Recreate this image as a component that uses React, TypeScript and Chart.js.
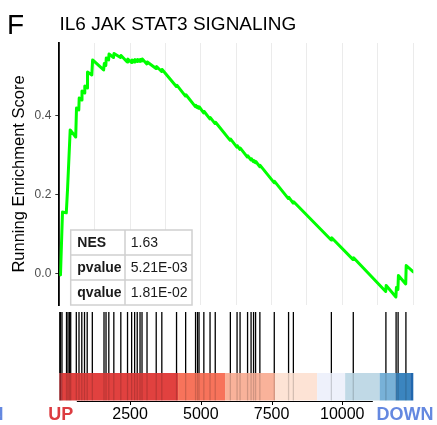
import React, { useEffect, useRef } from "react";
import { Chart, registerables } from "chart.js";

Chart.register(...registerables);

// ---------- data ----------
const panelTag = "F";
const geneSetTitle = "IL6 JAK STAT3 SIGNALING";
const yAxisTitle = "Running Enrichment Score";
const rankMax = 12510;

const curveRanks = [
  0, 42, 113, 247, 290, 325, 385, 580, 608, 689, 703, 788, 802, 884, 901, 979, 997, 1149, 1177,
  1566, 1591, 1644, 1661, 1743, 1757, 1916, 1934, 2163, 2181, 2400, 2421, 2549, 2566, 2655, 2672,
  2747, 2764, 2846, 2863, 2916, 2934, 3093, 3111, 3418, 3436, 3616, 3634,
  4136, 4154, 4458, 4475, 4808, 4825, 4878, 4896, 4931, 4949, 5101, 5119, 5320, 5338, 5504, 5522,
  6038, 6056, 6275, 6292, 6381, 6398, 6646, 6663, 6770, 6787, 6858, 6876, 6929, 6946, 7081, 7098,
  7590, 7607, 8095, 8113, 8265, 8283, 9608, 9626, 10382, 10400, 11535, 11552, 11895, 11913, 11966,
  11984, 12242, 12259, 12510,
];
const curveScores = [
  0.0, -0.004, 0.155, 0.153, 0.211, 0.267, 0.363, 0.345, 0.4185, 0.4134, 0.4438, 0.4387, 0.4615,
  0.4565, 0.4742, 0.4691, 0.5096, 0.502, 0.54,
  0.5147, 0.5311, 0.5261, 0.5451, 0.54, 0.5552, 0.5463, 0.5565, 0.5463, 0.5514, 0.5349, 0.5425,
  0.5337, 0.54, 0.5349, 0.5413, 0.5362, 0.5413, 0.5362, 0.5413, 0.5375, 0.5425, 0.5299, 0.5349,
  0.5185, 0.5235, 0.5109, 0.5159,
  0.4729, 0.4762, 0.4486, 0.4519, 0.4218, 0.4251, 0.419, 0.4223, 0.4177, 0.421, 0.4063, 0.4096,
  0.3909, 0.3942, 0.379, 0.3823, 0.3365, 0.3397, 0.3195, 0.3228, 0.3137, 0.317, 0.2942, 0.2975,
  0.2868, 0.2901, 0.2825, 0.2858, 0.2797, 0.283, 0.2699, 0.2732, 0.2294, 0.2327, 0.1891, 0.1924,
  0.1777, 0.181, 0.0843, 0.0899, 0.0347, 0.0392, -0.0461, -0.0309, -0.06, -0.0359, -0.041,
  -0.0056, -0.0271, 0.0197, 0.0033,
];

const hitRanks = [
  18, 42, 95, 255, 308, 361, 403, 601, 696, 795, 891, 986, 1167, 1580, 1651, 1750, 1927, 2174,
  2411, 2556, 2662, 2754, 2853, 2923, 3100, 3425, 3623, 4143, 4465, 4815, 4885, 4938, 5108, 5327,
  5511, 6045, 6282, 6388, 6653, 6777, 6865, 6936, 7088, 7597, 8102, 8272, 9615, 10389, 11542,
  11902, 11973, 12249,
];

const colorBreaks = [0, 90, 4197, 5858, 7626, 9111, 10101, 11320, 11880, 12400, 12510];
const colorBarColors = [
  "#B7282E", "#E1413F", "#F7735B", "#F9B29A", "#FDE3D5", "#EEF1FB", "#C0D9E6", "#78B1D7",
  "#3B85BF", "#2067AE",
];

const xGridValues = [0, 1250, 2500, 3750, 5000, 6250, 7500, 8750, 10000, 11250, 12500];
const xTickLabels = [2500, 5000, 7500, 10000];
const yTickValues = [0, 0.2, 0.4];
const bottomAxisFrom = 620;
const bottomAxisTo = 11080;

const statNames = ["NES", "pvalue", "qvalue"];
const statValues = ["1.63", "5.21E-03", "1.81E-02"];

const upLabel = "UP";
const downLabel = "DOWN";

const FONT = '"Liberation Sans", Arial, Helvetica, sans-serif';

const overlayPlugin = {
  id: "gseaOverlay",
  afterDraw(chart: any) {
    const { ctx, chartArea: ca } = chart;
    const x = chart.scales.x;
    ctx.save();

    // titles
    ctx.fillStyle = "#000";
    ctx.textAlign = "left";
    ctx.textBaseline = "alphabetic";
    ctx.font = `28px ${FONT}`;
    ctx.fillText(panelTag, 7, 33.5);
    ctx.font = `19px ${FONT}`;
    ctx.fillText(geneSetTitle, 59.5, 30);

    // stats table
    const tLeft = ca.left + 11.4;
    const tRight = ca.left + 132.7;
    const tCol = ca.left + 65.7;
    const rowH = 25;
    const tTop = ca.bottom - rowH * statNames.length;
    ctx.fillStyle = "#fff";
    ctx.fillRect(tLeft, tTop, tRight - tLeft, rowH * statNames.length);
    ctx.strokeStyle = "#D0D0D0";
    ctx.lineWidth = 1.5;
    ctx.strokeRect(tLeft, tTop, tRight - tLeft, rowH * statNames.length);
    ctx.beginPath();
    for (let i = 1; i < statNames.length; i++) {
      ctx.moveTo(tLeft, tTop + rowH * i);
      ctx.lineTo(tRight, tTop + rowH * i);
    }
    ctx.moveTo(tCol, tTop);
    ctx.lineTo(tCol, tTop + rowH * statNames.length);
    ctx.stroke();
    ctx.fillStyle = "#1A1A1A";
    ctx.textBaseline = "middle";
    for (let i = 0; i < statNames.length; i++) {
      const cy = tTop + rowH * i + rowH / 2 + 0.5;
      ctx.font = `bold 14px ${FONT}`;
      ctx.fillText(statNames[i], tLeft + 6.6, cy);
      ctx.font = `14px ${FONT}`;
      ctx.fillText(statValues[i], tCol + 5.7, cy);
    }

    // barcode panel
    const barTop = ca.bottom + 7;
    const colorTop = ca.bottom + 68;
    const barBottom = ca.bottom + 95.5;
    for (let i = 0; i < colorBarColors.length; i++) {
      const x0 = x.getPixelForValue(colorBreaks[i]);
      const x1 = x.getPixelForValue(colorBreaks[i + 1]);
      ctx.fillStyle = colorBarColors[i];
      ctx.fillRect(x0, colorTop, x1 - x0, barBottom - colorTop);
    }
    ctx.lineWidth = 1.3;
    for (const h of hitRanks) {
      const px = x.getPixelForValue(h);
      ctx.strokeStyle = "#000";
      ctx.beginPath();
      ctx.moveTo(px, barTop);
      ctx.lineTo(px, colorTop);
      ctx.stroke();
      ctx.strokeStyle = "rgba(0,0,0,0.16)";
      ctx.beginPath();
      ctx.moveTo(px, colorTop);
      ctx.lineTo(px, barBottom);
      ctx.stroke();
    }

    // lower axis line with ticks
    const axY = barBottom + 1;
    ctx.strokeStyle = "#000";
    ctx.lineWidth = 1;
    ctx.beginPath();
    ctx.moveTo(x.getPixelForValue(bottomAxisFrom), axY);
    ctx.lineTo(x.getPixelForValue(bottomAxisTo), axY);
    for (const t of xTickLabels) {
      const px = Math.round(x.getPixelForValue(t)) + 0.5;
      ctx.moveTo(px, axY);
      ctx.lineTo(px, axY + 3.5);
    }
    ctx.stroke();

    // UP / DOWN labels
    ctx.font = `bold 18px ${FONT}`;
    ctx.textBaseline = "alphabetic";
    ctx.textAlign = "center";
    ctx.fillStyle = "#DC3C40";
    ctx.fillText(upLabel, x.getPixelForValue(0) + 1.5, 419.5);
    ctx.textAlign = "right";
    ctx.fillStyle = "#6488E0";
    ctx.fillText(downLabel, 433.5, 419.5);
    ctx.fillText(downLabel, 3.5, 419.5);

    ctx.restore();
  },
};

export default function App() {
  const canvasRef = useRef<HTMLCanvasElement | null>(null);

  useEffect(() => {
    if (!canvasRef.current) return;
    Chart.defaults.font.family = FONT;
    const chart = new Chart(canvasRef.current, {
      type: "line",
      data: {
        datasets: [
          {
            data: curveRanks.map((r, i) => ({ x: r, y: curveScores[i] })),
            borderColor: "#00FF00",
            borderWidth: 3,
            pointRadius: 0,
            tension: 0,
            fill: false,
            borderJoinStyle: "round",
            borderCapStyle: "round",
          },
        ],
      },
      options: {
        animation: false,
        responsive: false,
        devicePixelRatio: 1,
        layout: { padding: { top: 43, right: 23.7, left: 0, bottom: 0 } },
        plugins: { legend: { display: false }, tooltip: { enabled: false } },
        scales: {
          x: {
            type: "linear",
            min: 0,
            max: rankMax,
            afterFit(s: any) {
              s.height = 120;
              s.paddingLeft = 0;
              s.paddingRight = 0;
            },
            afterBuildTicks(s: any) {
              s.ticks = xGridValues.map((v) => ({ value: v }));
            },
            ticks: {
              autoSkip: false,
              maxRotation: 0,
              padding: 3,
              color: "#000",
              font: { size: 16 },
              callback: (v: any) => (xTickLabels.includes(Number(v)) ? String(v) : ""),
            },
            grid: {
              color: "#EBEBEB",
              lineWidth: 1,
              drawTicks: true,
              tickLength: 97,
              tickColor: "rgba(0,0,0,0)",
            },
            border: { display: false },
          },
          y: {
            type: "linear",
            min: -0.0803,
            max: 0.583,
            afterFit(s: any) {
              s.width = 59.3;
            },
            afterBuildTicks(s: any) {
              s.ticks = yTickValues.map((v) => ({ value: v }));
            },
            ticks: {
              color: "#4D4D4D",
              font: { size: 12 },
              padding: 4,
              callback: (v: any) => Number(v).toFixed(1),
            },
            grid: { drawOnChartArea: false, tickLength: 4, tickColor: "#333", lineWidth: 1 },
            border: { display: true, color: "#000", width: 1.8 },
            title: {
              display: true,
              text: yAxisTitle,
              color: "#000",
              font: { size: 16.5 },
              padding: { top: 10, bottom: 0 },
            },
          },
        },
      },
      plugins: [overlayPlugin],
    } as any);
    return () => chart.destroy();
  }, []);

  return (
    <div
      style={{
        position: "fixed",
        left: 0,
        top: 0,
        width: 437,
        height: 425,
        background: "#fff",
      }}
    >
      <canvas ref={canvasRef} width={437} height={425} style={{ display: "block" }} />
    </div>
  );
}
